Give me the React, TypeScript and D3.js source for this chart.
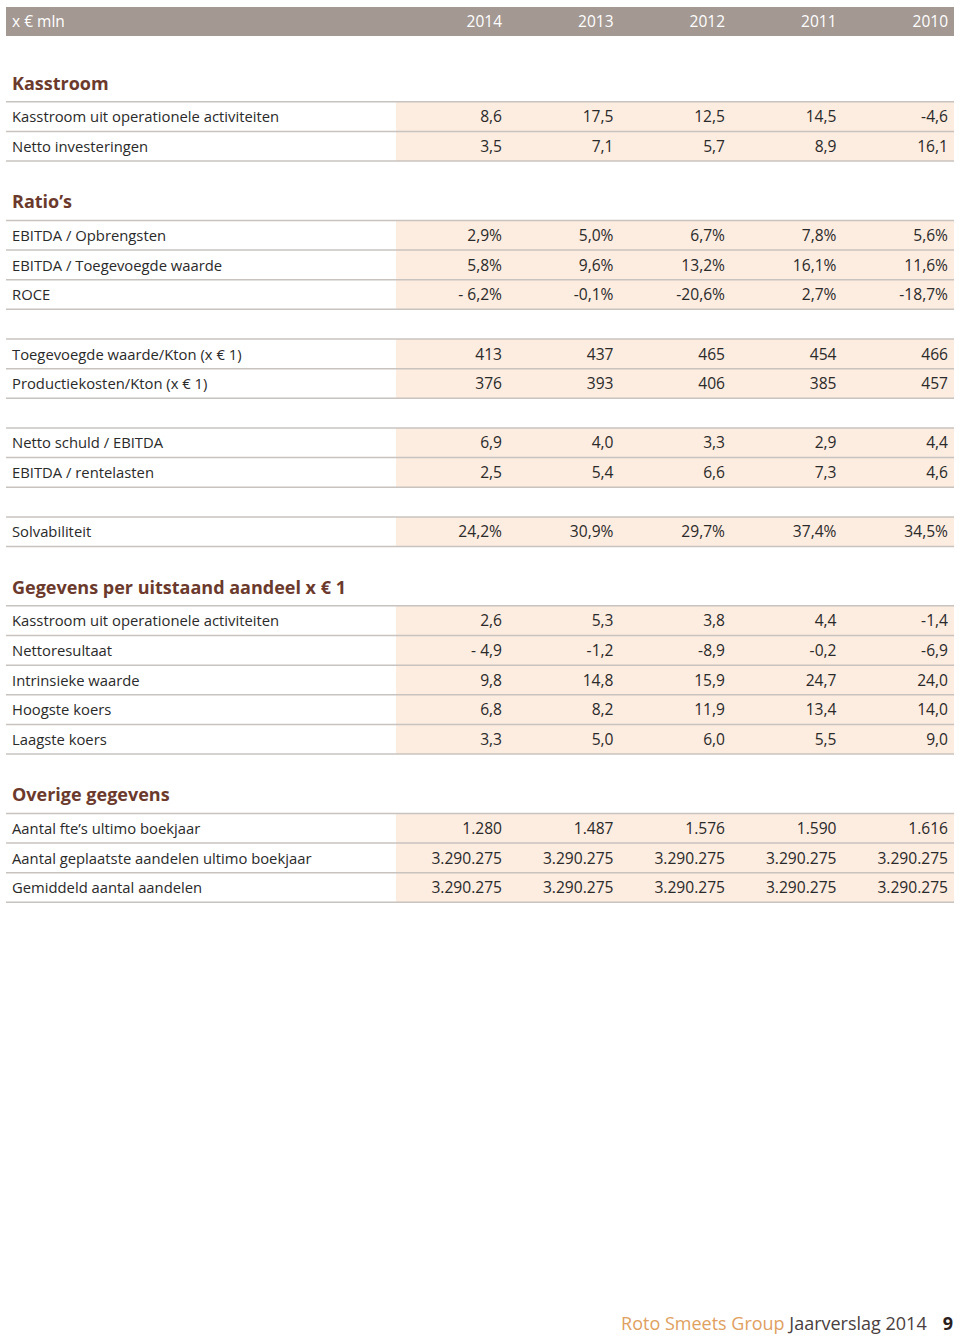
import { useEffect, useRef } from "react"
import * as d3 from "d3"

const years = ["2014", "2013", "2012", "2011", "2010"]

const kasstroomLabels = ["Kasstroom uit operationele activiteiten", "Netto investeringen"]
const kasstroomValues = [
  ["8,6", "17,5", "12,5", "14,5", "-4,6"],
  ["3,5", "7,1", "5,7", "8,9", "16,1"],
]

const ratioLabels = ["EBITDA / Opbrengsten", "EBITDA / Toegevoegde waarde", "ROCE"]
const ratioValues = [
  ["2,9%", "5,0%", "6,7%", "7,8%", "5,6%"],
  ["5,8%", "9,6%", "13,2%", "16,1%", "11,6%"],
  ["- 6,2%", "-0,1%", "-20,6%", "2,7%", "-18,7%"],
]

const ktonLabels = ["Toegevoegde waarde/Kton (x € 1)", "Productiekosten/Kton (x € 1)"]
const ktonValues = [
  ["413", "437", "465", "454", "466"],
  ["376", "393", "406", "385", "457"],
]

const schuldLabels = ["Netto schuld / EBITDA", "EBITDA / rentelasten"]
const schuldValues = [
  ["6,9", "4,0", "3,3", "2,9", "4,4"],
  ["2,5", "5,4", "6,6", "7,3", "4,6"],
]

const solvLabels = ["Solvabiliteit"]
const solvValues = [["24,2%", "30,9%", "29,7%", "37,4%", "34,5%"]]

const aandeelLabels = [
  "Kasstroom uit operationele activiteiten",
  "Nettoresultaat",
  "Intrinsieke waarde",
  "Hoogste koers",
  "Laagste koers",
]
const aandeelValues = [
  ["2,6", "5,3", "3,8", "4,4", "-1,4"],
  ["- 4,9", "-1,2", "-8,9", "-0,2", "-6,9"],
  ["9,8", "14,8", "15,9", "24,7", "24,0"],
  ["6,8", "8,2", "11,9", "13,4", "14,0"],
  ["3,3", "5,0", "6,0", "5,5", "9,0"],
]

const overigLabels = [
  "Aantal fte’s ultimo boekjaar",
  "Aantal geplaatste aandelen ultimo boekjaar",
  "Gemiddeld aantal aandelen",
]
const overigValues = [
  ["1.280", "1.487", "1.576", "1.590", "1.616"],
  ["3.290.275", "3.290.275", "3.290.275", "3.290.275", "3.290.275"],
  ["3.290.275", "3.290.275", "3.290.275", "3.290.275", "3.290.275"],
]

// heading (or null) + rows
const blocks = [
  { heading: "Kasstroom", labels: kasstroomLabels, values: kasstroomValues },
  { heading: "Ratio’s", labels: ratioLabels, values: ratioValues },
  { heading: null, labels: ktonLabels, values: ktonValues },
  { heading: null, labels: schuldLabels, values: schuldValues },
  { heading: null, labels: solvLabels, values: solvValues },
  { heading: "Gegevens per uitstaand aandeel x € 1", labels: aandeelLabels, values: aandeelValues },
  { heading: "Overige gegevens", labels: overigLabels, values: overigValues },
]

const FONT = "'Open Sans', 'Noto Sans', sans-serif"

export default function App() {
  const svgRef = useRef<SVGSVGElement>(null)

  useEffect(() => {
    const svg = d3.select(svgRef.current)
    svg.selectAll("*").remove()

    const W = 960
    const H = 1338
    const left = 6
    const right = 954
    const shadeX = 396

    const x = d3.scalePoint<string>().domain(years).range([502, 948])
    // slot index -> top of row
    const y = d3.scaleLinear().domain([0, 1]).range([101.8, 101.8 + 29.65])

    // header bar
    svg.append("rect").attr("x", left).attr("y", 7).attr("width", right - left).attr("height", 29).attr("fill", "#a39892")
    svg.append("text").attr("x", 12).attr("y", 27).attr("fill", "#fff").style("font-size", "15.5px").text("x € mln")
    svg.selectAll(".yr")
      .data(years)
      .enter()
      .append("text")
      .attr("x", (d) => x(d)!)
      .attr("y", 27)
      .attr("text-anchor", "end")
      .attr("fill", "#fff")
      .style("font-size", "15.5px")
      .text((d) => d)

    let slot = 0
    blocks.forEach((b, bi) => {
      if (bi > 0) slot += b.heading ? 2 : 1
      if (b.heading) {
        svg.append("text")
          .attr("x", 12)
          .attr("y", y(slot) - 12)
          .attr("fill", "#6b3a2c")
          .style("font-size", "18px")
          .style("font-weight", "700")
          .text(b.heading)
      }
      b.labels.forEach((lab, i) => {
        const top = y(slot + i)
        const bot = y(slot + i + 1)
        svg.append("rect").attr("x", shadeX).attr("y", top).attr("width", right - shadeX).attr("height", bot - top).attr("fill", "#fdece0")
        svg.append("text").attr("x", 12).attr("y", top + 20.5).attr("fill", "#2a2a2a").style("font-size", "14.8px").text(lab)
        b.values[i].forEach((v, j) => {
          svg.append("text")
            .attr("x", x(years[j])!)
            .attr("y", top + 20.5)
            .attr("text-anchor", "end")
            .attr("fill", "#2a2a2a")
            .style("font-size", "15.6px")
            .text(v)
        })
      })
      for (let i = 0; i <= b.labels.length; i++) {
        svg.append("line")
          .attr("x1", left)
          .attr("x2", right)
          .attr("y1", y(slot + i))
          .attr("y2", y(slot + i))
          .attr("stroke", "#c8c3bf")
          .attr("stroke-width", 1.5)
      }
      slot += b.labels.length
    })

    // footer
    const foot = svg.append("text").attr("x", 953).attr("y", 1330).attr("text-anchor", "end").style("font-size", "18px")
    foot.append("tspan").attr("fill", "#e0a060").text("Roto Smeets Group ")
    foot.append("tspan").attr("fill", "#4a4040").text("Jaarverslag 2014")
    foot.append("tspan").attr("fill", "#2a2020").attr("dx", 16).style("font-weight", "700").text("9")

    svg.attr("width", W).attr("height", H)
  }, [])

  return (
    <svg
      ref={svgRef}
      style={{ position: "absolute", left: 0, top: 0, fontFamily: FONT, display: "block" }}
    />
  )
}
